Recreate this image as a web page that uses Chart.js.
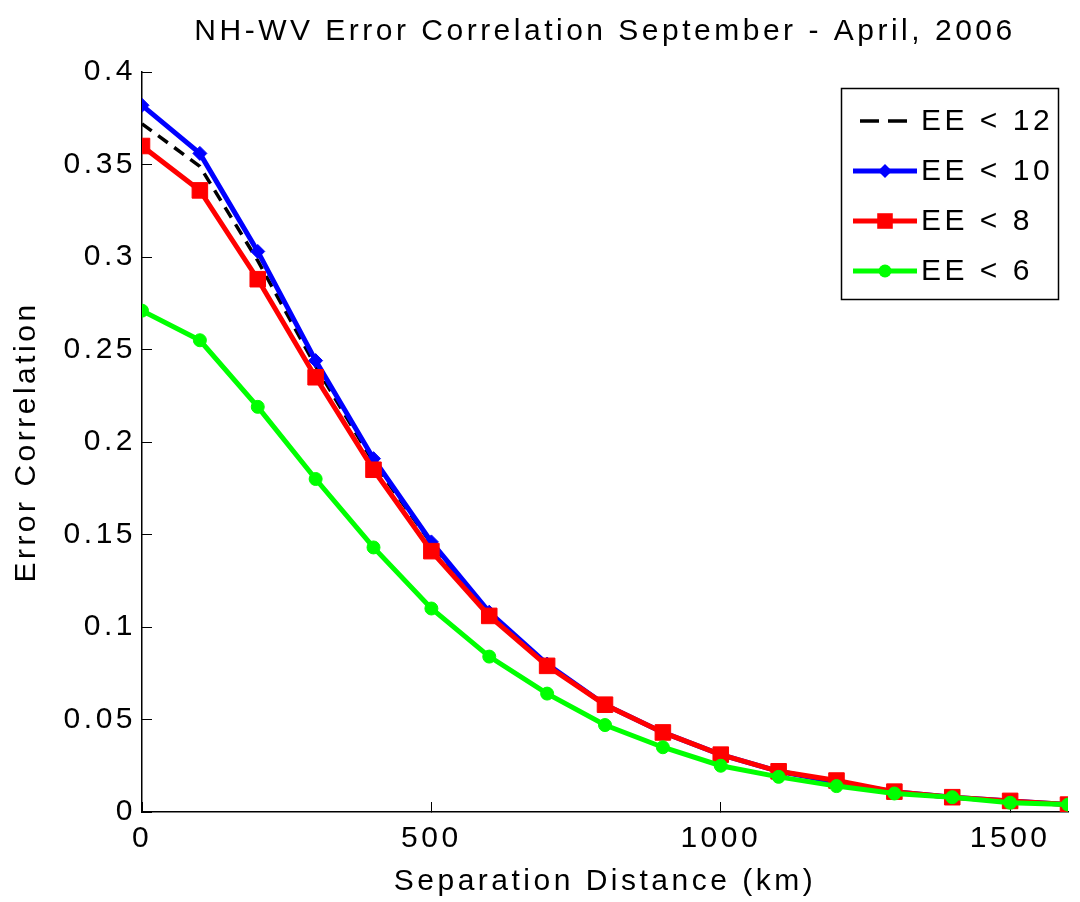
<!DOCTYPE html>
<html>
<head>
<meta charset="utf-8">
<script src="https://cdn.jsdelivr.net/npm/chart.js@4.4.1/dist/chart.umd.min.js"></script>
<style>
  html, body { margin: 0; padding: 0; background: #fff; }
  #wrap { width: 1080px; height: 902px; }
</style>
</head>
<body>
<div id="wrap"><canvas id="corrChart"></canvas></div>
<script>
// separation distance (km)
const distances = [0, 100, 200, 300, 400, 500, 600, 700, 800, 900, 1000, 1100, 1200, 1300, 1400, 1500, 1600];
const ee12 = [0.372, 0.349, 0.298, 0.241, 0.189, 0.145, 0.107, 0.080, 0.058, 0.043, 0.031, 0.022, 0.016, 0.011, 0.008, 0.006, 0.004];
const ee10 = [0.382, 0.356, 0.303, 0.244, 0.191, 0.146, 0.108, 0.080, 0.058, 0.043, 0.031, 0.022, 0.016, 0.011, 0.008, 0.006, 0.004];
const ee8 = [0.360, 0.336, 0.288, 0.235, 0.185, 0.141, 0.106, 0.079, 0.058, 0.043, 0.031, 0.022, 0.017, 0.011, 0.008, 0.006, 0.004];
const ee6 = [0.271, 0.255, 0.219, 0.180, 0.143, 0.110, 0.084, 0.064, 0.047, 0.035, 0.025, 0.019, 0.014, 0.010, 0.008, 0.005, 0.004];
const seriesLabels = ["EE < 12", "EE < 10", "EE < 8", "EE < 6"];
const xTicks = [0, 500, 1000, 1500];

const FONT = "'Liberation Sans', Arial, sans-serif";
const FSIZE = 30;
const SPACING = "3.5px";

const pts = arr => arr.map((v, i) => ({ x: distances[i], y: v }));

// old matlab export has very wide text, fake it with letter spacing
const spacing = {
  id: "spacing",
  beforeLayout(chart) { chart.ctx.letterSpacing = SPACING; },
  beforeDraw(chart) { chart.ctx.letterSpacing = SPACING; }
};

function marker(ctx, style, x, y, r) {
  ctx.beginPath();
  if (style === "rectRot") {
    ctx.moveTo(x - r, y); ctx.lineTo(x, y - r); ctx.lineTo(x + r, y); ctx.lineTo(x, y + r);
  } else if (style === "rect") {
    const s = r * Math.SQRT1_2;
    ctx.rect(x - s, y - s, 2 * s, 2 * s);
  } else {
    ctx.arc(x, y, r, 0, Math.PI * 2);
  }
  ctx.closePath();
  ctx.fill();
}

const boxLegend = {
  id: "boxLegend",
  afterDraw(chart) {
    const ctx = chart.ctx;
    ctx.save();
    ctx.letterSpacing = SPACING;
    ctx.fillStyle = "#fff";
    ctx.fillRect(841, 88, 217, 212);
    ctx.strokeStyle = "#000";
    ctx.lineWidth = 1.5;
    ctx.strokeRect(841.5, 88.5, 217, 211);
    ctx.font = FSIZE + "px " + FONT;
    ctx.textBaseline = "middle";
    chart.data.datasets.forEach((ds, i) => {
      const y = 121 + i * 50;
      ctx.strokeStyle = ds.borderColor;
      ctx.lineWidth = ds.borderWidth;
      ctx.beginPath();
      if (ds.borderDash) { ctx.setLineDash([19, 9]); ctx.moveTo(860, y); ctx.lineTo(908, y); }
      else { ctx.moveTo(853, y); ctx.lineTo(917, y); }
      ctx.stroke();
      ctx.setLineDash([]);
      if (ds.pointRadius > 0) {
        ctx.fillStyle = ds.pointBackgroundColor;
        marker(ctx, ds.pointStyle, 885, y, ds.pointRadius);
      }
      ctx.fillStyle = "#000";
      ctx.fillText(ds.label, 921, y + 1);
    });
    ctx.restore();
  }
};

new Chart(document.getElementById("corrChart"), {
  type: "line",
  data: {
    datasets: [
      {
        label: seriesLabels[0], data: pts(ee12), borderColor: "#000", borderWidth: 3.5,
        borderDash: [12, 8], pointRadius: 0, order: 4
      },
      {
        label: seriesLabels[1], data: pts(ee10), borderColor: "#0000ff", borderWidth: 5,
        pointStyle: "rectRot", pointRadius: 7, pointBackgroundColor: "#0000ff",
        pointBorderColor: "#0000ff", pointBorderWidth: 1, order: 3
      },
      {
        label: seriesLabels[2], data: pts(ee8), borderColor: "#ff0000", borderWidth: 5,
        pointStyle: "rect", pointRadius: 11, pointBackgroundColor: "#ff0000",
        pointBorderColor: "#ff0000", pointBorderWidth: 1, order: 2
      },
      {
        label: seriesLabels[3], data: pts(ee6), borderColor: "#00ff00", borderWidth: 5,
        pointStyle: "circle", pointRadius: 6.5, pointBackgroundColor: "#00ff00",
        pointBorderColor: "#00ff00", pointBorderWidth: 1, order: 1
      }
    ]
  },
  options: {
    responsive: true,
    maintainAspectRatio: false,
    animation: false,
    layout: { padding: { top: 0, right: 2, bottom: 0, left: 0 } },
    elements: { line: { tension: 0 } },
    plugins: {
      legend: { display: false },
      tooltip: { enabled: false },
      title: {
        display: true,
        fullSize: false,
        text: "NH-WV Error Correlation September - April, 2006",
        color: "#000",
        font: { family: FONT, size: FSIZE, weight: "normal" },
        padding: { top: 14, bottom: 22 }
      }
    },
    scales: {
      x: {
        type: "linear",
        min: 0,
        max: 1600,
        afterBuildTicks: s => { s.ticks = xTicks.map(v => ({ value: v })); },
        afterFit: s => { s.height = 90; },
        grid: { display: true, drawOnChartArea: false, drawTicks: true, tickLength: -10, color: "#000" },
        border: { display: true, color: "#000", width: 1.5 },
        ticks: {
          color: "#000", font: { family: FONT, size: FSIZE }, padding: 19, maxRotation: 0,
          callback: v => String(v)
        },
        title: {
          display: true, text: "Separation Distance (km)", color: "#000",
          font: { family: FONT, size: FSIZE }, padding: { top: 0, bottom: 2 }
        }
      },
      y: {
        min: 0,
        max: 0.4,
        ticks: {
          stepSize: 0.05, color: "#000", font: { family: FONT, size: FSIZE }, padding: 16,
          callback: v => String(+v.toFixed(2))
        },
        afterFit: s => { s.width = 142; },
        grid: { display: true, drawOnChartArea: false, drawTicks: true, tickLength: -10, color: "#000" },
        border: { display: true, color: "#000", width: 1.5 },
        title: {
          display: true, text: "Error Correlation", color: "#000",
          font: { family: FONT, size: FSIZE }, padding: { top: 9, bottom: 0 }
        }
      }
    }
  },
  plugins: [spacing, boxLegend]
});
</script>
</body>
</html>
